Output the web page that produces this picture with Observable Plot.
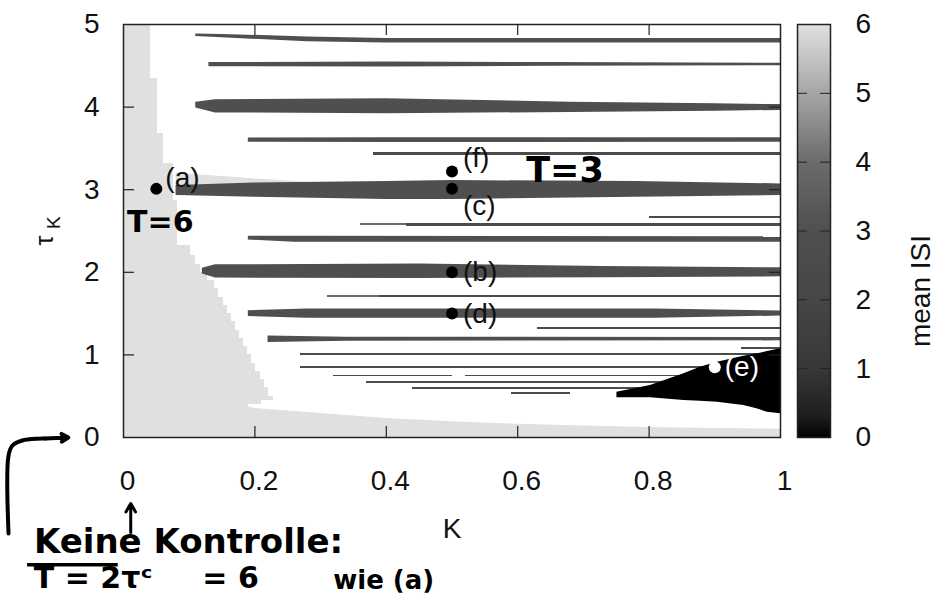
<!DOCTYPE html>
<html><head><meta charset="utf-8">
<script src="https://cdn.jsdelivr.net/npm/d3@7"></script>
<script src="https://cdn.jsdelivr.net/npm/@observablehq/plot@0.6"></script>
<style>
body{margin:0;background:#fff;}
#wrap{position:relative;width:940px;height:602px;overflow:hidden;}
#wrap svg{position:absolute;top:0;}
</style></head><body><div id="wrap"></div>
<script>
// ---- axis ticks ----
const xTicks = [0, 0.2, 0.4, 0.6, 0.8, 1];
const yTicks = [0, 1, 2, 3, 4, 5];
const cbTicks = [0, 1, 2, 3, 4, 5, 6];
const xInner = [0.2, 0.4, 0.6, 0.8];
const yInner = [1, 2, 3, 4];
const cbInner = [1, 2, 3, 4, 5];

// ---- grey palette (mean ISI -> grey) ----
const isiStops  = [0, 0.3, 1, 2, 3, 4, 5, 6];
const grayRange = ["#000000", "#1e1e1e", "#383838", "#464646", "#4f4f4f", "#6b6b6b", "#a6a6a6", "#e0e0e0"];

// ---- left region, mean ISI = 6 : [tau low, tau high, K right edge] ----
const leftRegion = [
  [4.35, 5.00, 0.041], [3.68, 4.35, 0.052], [3.32, 3.68, 0.061], [2.87, 3.32, 0.076],
  [2.32, 2.87, 0.082], [2.20, 2.32, 0.102], [2.10, 2.20, 0.110], [2.00, 2.10, 0.117],
  [1.90, 2.00, 0.128], [1.80, 1.90, 0.138], [1.70, 1.80, 0.145], [1.60, 1.70, 0.152],
  [1.50, 1.60, 0.158], [1.40, 1.50, 0.164], [1.30, 1.40, 0.170], [1.20, 1.30, 0.176],
  [1.10, 1.20, 0.183], [1.00, 1.10, 0.189], [0.90, 1.00, 0.195], [0.80, 0.90, 0.201],
  [0.70, 0.80, 0.208], [0.60, 0.70, 0.214], [0.50, 0.60, 0.220], [0.45, 0.50, 0.228],
  [0.40, 0.45, 0.210], [0.34, 0.40, 0.190]
];
const leftISI = 6;

// ---- bottom wedge, mean ISI = 6 ----
const wedgeK   = [0, 0.19, 0.20, 0.30, 0.40, 0.50, 0.60, 0.70, 0.80, 0.90, 1.00];
const wedgeTau = [0.37, 0.37, 0.35, 0.29, 0.23, 0.19, 0.16, 0.14, 0.12, 0.11, 0.10];

// ---- light wedge above the tau=3 band ----
const w3K   = [0.08, 0.15, 0.22, 0.28];
const w3Top = [3.20, 3.16, 3.12, 3.09];
const w3Bot = [3.05, 3.06, 3.07, 3.07];

// ---- thick bands (mean ISI ~3): rows [band, K, tau low, tau high] ----
const thickBands = [
  [1, 0.11, 4.855, 4.885], [1, 0.15, 4.84, 4.88], [1, 0.28, 4.79, 4.85], [1, 0.40, 4.775, 4.83], [1, 1.00, 4.775, 4.83],
  [2, 0.13, 4.49, 4.54], [2, 0.40, 4.485, 4.545], [2, 0.65, 4.495, 4.54], [2, 1.00, 4.50, 4.53],
  [3, 0.11, 3.99, 4.06], [3, 0.14, 3.93, 4.09], [3, 0.40, 3.92, 4.10], [3, 0.68, 3.935, 4.06], [3, 0.90, 3.95, 4.04], [3, 1.00, 3.96, 4.03],
  [4, 0.19, 3.575, 3.625], [4, 0.40, 3.57, 3.63], [4, 1.00, 3.575, 3.63],
  [5, 0.08, 2.93, 3.05], [5, 0.20, 2.91, 3.08], [5, 0.40, 2.88, 3.10], [5, 0.50, 2.88, 3.11], [5, 0.78, 2.91, 3.10], [5, 1.00, 2.93, 3.07],
  [6, 0.19, 2.39, 2.435], [6, 0.26, 2.365, 2.435], [6, 1.00, 2.365, 2.43],
  [7, 0.12, 1.98, 2.05], [7, 0.14, 1.93, 2.09], [7, 0.45, 1.925, 2.10], [7, 0.73, 1.935, 2.07], [7, 1.00, 1.945, 2.055],
  [8, 0.19, 1.465, 1.535], [8, 0.28, 1.445, 1.555], [8, 0.81, 1.445, 1.555], [8, 1.00, 1.47, 1.53],
  [9, 0.22, 1.15, 1.23], [9, 0.34, 1.165, 1.215], [9, 1.00, 1.17, 1.21]
];
const bandISI = 3;

// ---- thin lines: [K start, K end, tau low, tau high, mean ISI] ----
const thinLines = [
  [0.38, 1.00, 3.42, 3.445, 2.5],
  [0.80, 1.00, 2.655, 2.68, 2.5],
  [0.36, 0.43, 2.565, 2.585, 4], [0.43, 1.00, 2.56, 2.59, 2.5],
  [0.31, 0.39, 1.70, 1.72, 4], [0.39, 1.00, 1.695, 1.72, 2.5],
  [0.63, 1.00, 1.31, 1.335, 2.5],
  [0.94, 1.00, 1.07, 1.09, 2.5],
  [0.27, 1.00, 0.99, 1.015, 2.5],
  [0.27, 1.00, 0.84, 0.865, 2.5],
  [0.32, 0.50, 0.735, 0.755, 2.5], [0.52, 1.00, 0.735, 0.755, 2.5],
  [0.37, 1.00, 0.655, 0.675, 2.5],
  [0.44, 1.00, 0.585, 0.605, 2.5],
  [0.59, 0.68, 0.525, 0.545, 2.5]
];

// ---- black region (mean ISI ~ 0) ----
const blackK  = [0.751, 0.802, 0.853, 0.878, 0.904, 0.944, 0.964, 0.980, 1.000];
const blackLo = [0.481, 0.481, 0.448, 0.440, 0.427, 0.387, 0.347, 0.306, 0.287];
const blackHi = [0.548, 0.630, 0.771, 0.851, 0.912, 0.985, 1.010, 1.040, 1.074];

// ---- marked points ----
const ptName = ["(a)", "(b)", "(c)", "(d)", "(e)", "(f)"];
const ptK    = [0.05, 0.5, 0.5, 0.5, 0.9, 0.5];
const ptTau  = [3.01, 2.0, 3.01, 1.5, 0.85, 3.22];

// ---- handwritten notes ----
const noteText = ["T=6", "T=3", "Keine Kontrolle:", "T = 2τᶜ", "= 6", "wie (a)"];
const noteK    = [0.056, 0.672, 0.099, -0.046, 0.163, 0.396];
const noteTau  = [2.60, 3.23, -1.27, -1.71, -1.71, -1.73];
const bracketK   = [-0.175, -0.175, -0.169, -0.154, -0.119];
const bracketTau = [-1.162, -0.218, -0.097, -0.036, -0.012];

// ---------------------------------------------------------------
const rows = (...cols) => cols[0].map((_, i) => cols.map(c => c[i]));
const points = ptName.map((n, i) => ({n, k: ptK[i], t: ptTau[i]}));
const notes = noteText.map((s, i) => ({s, k: noteK[i], t: noteTau[i]}));
const wedge = rows(wedgeK, wedgeTau).map(([k, t]) => ({k, t}));
const w3 = rows(w3K, w3Bot, w3Top).map(([k, lo, hi]) => ({k, lo, hi}));
const black = rows(blackK, blackLo, blackHi).map(([k, lo, hi]) => ({k, lo, hi}));
const bracket = rows(bracketK, bracketTau).map(([k, t]) => ({k, t}));

const plotFont = "Liberation Sans, Arial, Helvetica, sans-serif";
const handFont = "DejaVu Sans, sans-serif";
const color = {type: "linear", domain: isiStops, range: grayRange, clamp: true};

const note = (i, size, extra = {}) => Plot.text([notes[i]], {
  x: "k", y: "t", text: "s", fontFamily: handFont, fontWeight: "bold",
  fontSize: size, fill: "black", ...extra
});

const main = Plot.plot({
  width: 940, height: 602,
  marginLeft: 123, marginRight: 160, marginTop: 24, marginBottom: 165,
  style: {fontFamily: plotFont, fontSize: "28px", background: "transparent", overflow: "visible"},
  x: {domain: [0, 1]},
  y: {domain: [0, 5]},
  color,
  marks: [
    Plot.rect(leftRegion, {x1: 0, x2: d => d[2], y1: d => d[0], y2: d => d[1], fill: () => leftISI, shapeRendering: "crispEdges"}),
    Plot.areaY(wedge, {x: "k", y1: 0, y2: "t", fill: () => leftISI}),
    Plot.areaY(w3, {x: "k", y1: "lo", y2: "hi", fill: () => leftISI}),
    Plot.areaY(thickBands, {x: d => d[1], y1: d => d[2], y2: d => d[3], z: d => d[0], fill: () => bandISI}),
    Plot.rect(thinLines, {x1: d => d[0], x2: d => d[1], y1: d => d[2], y2: d => d[3], fill: d => d[4], shapeRendering: "crispEdges"}),
    Plot.areaY(black, {x: "k", y1: "lo", y2: "hi", fill: () => 0}),
    Plot.frame({stroke: "#222", strokeWidth: 1.5}),
    Plot.tickX(xInner, {x: d => d, insetBottom: 402, stroke: "#222", strokeWidth: 1.2}),
    Plot.tickX(xInner, {x: d => d, insetTop: 402, stroke: "#222", strokeWidth: 1.2}),
    Plot.tickY(yInner, {y: d => d, insetRight: 646, stroke: "#222", strokeWidth: 1.2}),
    Plot.tickY(yInner, {y: d => d, insetLeft: 646, stroke: "#222", strokeWidth: 1.2}),
    Plot.axisX({ticks: xTicks, tickSize: 0, tickPadding: 33, dx: 4, label: null, tickFormat: d => `${d}`, fill: "#111"}),
    Plot.axisY({ticks: yTicks, tickSize: 0, tickPadding: 24, label: null, tickFormat: d => `${d}`, fill: "#111"}),
    Plot.text(["K"], {x: 0.5, y: -1.11, text: d => d, fill: "#111"}),
    Plot.text(["τ"], {x: -0.120, y: 2.385, text: d => d, rotate: -90, fill: "#111", fontSize: 25}),
    Plot.text(["K"], {x: -0.1065, y: 2.60, text: d => d, rotate: -90, fill: "#111", fontSize: 19}),
    Plot.dot(points.filter(p => p.n !== "(e)"), {x: "k", y: "t", r: 6, fill: "black"}),
    Plot.dot(points.filter(p => p.n === "(e)"), {x: "k", y: "t", r: 6, fill: "white"}),
    Plot.text(points.filter(p => p.n === "(a)"), {x: "k", y: "t", text: "n", textAnchor: "start", dx: 9, dy: -11, fill: "#111"}),
    Plot.text(points.filter(p => p.n === "(f)"), {x: "k", y: "t", text: "n", textAnchor: "start", dx: 11, dy: -13, fill: "#111"}),
    Plot.text(points.filter(p => p.n === "(c)"), {x: "k", y: "t", text: "n", textAnchor: "start", dx: 11, dy: 17, fill: "#111"}),
    Plot.text(points.filter(p => p.n === "(b)" || p.n === "(d)"), {x: "k", y: "t", text: "n", textAnchor: "start", dx: 11, fill: "#111"}),
    Plot.text(points.filter(p => p.n === "(e)"), {x: "k", y: "t", text: "n", textAnchor: "start", dx: 10, fill: "white"}),
    note(0, 30), note(1, 35), note(2, 34), note(3, 30), note(4, 30), note(5, 26),
    Plot.ruleY([notes[2]], {y: d => d.t - 0.27, x1: -0.146, x2: -0.008, stroke: "black", strokeWidth: 3.5}),
    Plot.line(bracket, {x: "k", y: "t", stroke: "black", strokeWidth: 4, curve: "catmull-rom"}),
    Plot.arrow([bracket[bracket.length - 1]], {x1: "k", y1: "t", x2: -0.084, y2: 0, stroke: "black", strokeWidth: 4, headLength: 14}),
    Plot.arrow([points[0]], {x1: 0.011, y1: -1.15, x2: 0.011, y2: -0.80, stroke: "black", strokeWidth: 3, headLength: 12})
  ]
});

const cbCells = d3.range(0, 6, 0.05);
const cbar = Plot.plot({
  width: 143, height: 460,
  marginLeft: 0, marginRight: 110, marginTop: 24, marginBottom: 23,
  style: {fontFamily: plotFont, fontSize: "28px", background: "transparent", overflow: "visible"},
  x: {domain: [0, 1], axis: null},
  y: {domain: [0, 6], axis: null},
  color,
  marks: [
    Plot.rect(cbCells, {x1: 0, x2: 1, y1: d => d, y2: d => d + 0.05, fill: d => d + 0.025, shapeRendering: "crispEdges"}),
    Plot.frame({stroke: "#222", strokeWidth: 1.5}),
    Plot.tickY(cbInner, {y: d => d, insetRight: 23, stroke: "#222"}),
    Plot.tickY(cbInner, {y: d => d, insetLeft: 23, stroke: "#222"}),
    Plot.axisY({anchor: "right", ticks: cbTicks, tickSize: 0, tickPadding: 25, label: null, tickFormat: d => `${d}`, fill: "#111"}),
    Plot.text(["mean ISI"], {frameAnchor: "right", text: d => d, rotate: -90, dx: 91, dy: 4, fill: "#111"})
  ]
});

const wrap = document.getElementById("wrap");
main.style.left = "0px";
cbar.style.left = "797px";
wrap.appendChild(main);
wrap.appendChild(cbar);
</script></body></html>
